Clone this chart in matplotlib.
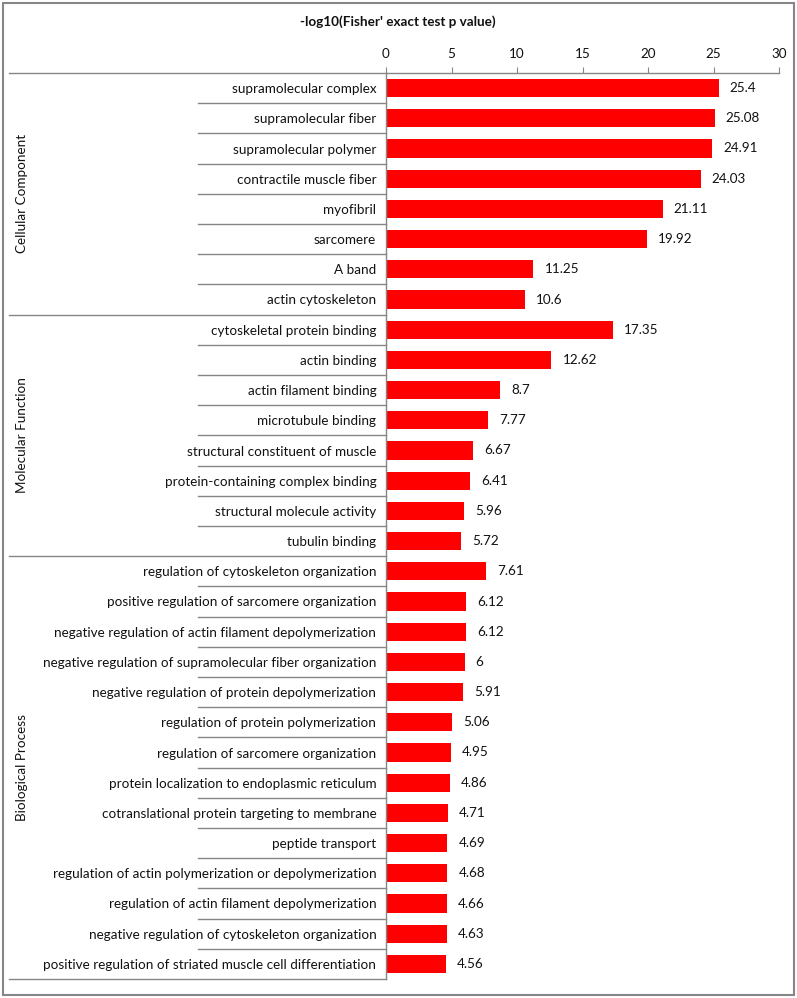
import matplotlib.pyplot as plt
from matplotlib.lines import Line2D
from matplotlib.patches import Rectangle
from matplotlib.transforms import blended_transform_factory

plt.rcParams["font.family"] = ["Lato", "DejaVu Sans"]

# GO enrichment terms (top to bottom) and -log10 p values
cc_terms = ["supramolecular complex", "supramolecular fiber", "supramolecular polymer",
            "contractile muscle fiber", "myofibril", "sarcomere", "A band",
            "actin cytoskeleton"]
cc_values = [25.4, 25.08, 24.91, 24.03, 21.11, 19.92, 11.25, 10.6]

mf_terms = ["cytoskeletal protein binding", "actin binding", "actin filament binding",
            "microtubule binding", "structural constituent of muscle",
            "protein-containing complex binding", "structural molecule activity",
            "tubulin binding"]
mf_values = [17.35, 12.62, 8.7, 7.77, 6.67, 6.41, 5.96, 5.72]

bp_terms = ["regulation of cytoskeleton organization",
            "positive regulation of sarcomere organization",
            "negative regulation of actin filament depolymerization",
            "negative regulation of supramolecular fiber organization",
            "negative regulation of protein depolymerization",
            "regulation of protein polymerization",
            "regulation of sarcomere organization",
            "protein localization to endoplasmic reticulum",
            "cotranslational protein targeting to membrane",
            "peptide transport",
            "regulation of actin polymerization or depolymerization",
            "regulation of actin filament depolymerization",
            "negative regulation of cytoskeleton organization",
            "positive regulation of striated muscle cell differentiation"]
bp_values = [7.61, 6.12, 6.12, 6, 5.91, 5.06, 4.95, 4.86, 4.71, 4.69, 4.68, 4.66,
             4.63, 4.56]

group_names = ["Cellular Component", "Molecular Function", "Biological Process"]
x_ticks = [0, 5, 10, 15, 20, 25, 30]

terms = cc_terms + mf_terms + bp_terms
values = cc_values + mf_values + bp_values
group_sizes = [len(cc_terms), len(mf_terms), len(bp_terms)]

W, H = 797, 998
GRAY = "#868686"
TXT = "#111111"
FS = 9.7

fig = plt.figure(figsize=(W / 100, H / 100), dpi=100)
ax = fig.add_axes([386 / W, 1 - 979 / H, (779 - 386) / W, (979 - 73) / H])

ypos = list(range(len(terms)))
ax.barh(ypos, values, height=0.6, color="#ff0000")
for y, v in zip(ypos, values):
    ax.annotate(f"{v:g}", (v, y), xytext=(8, 0), textcoords="offset points",
                va="center", ha="left", fontsize=FS, color=TXT)

ax.set_xlim(0, 30)
ax.set_ylim(len(terms) - 0.5, -0.5)
ax.set_xticks(x_ticks)
ax.xaxis.tick_top()
ax.tick_params(axis="x", direction="out", length=4, color=GRAY, labelsize=FS,
               pad=5, labelcolor=TXT)
ax.set_yticks(ypos)
ax.set_yticklabels(terms, fontsize=FS, color=TXT)
ax.tick_params(axis="y", length=0, pad=7)
for s in ["right", "bottom"]:
    ax.spines[s].set_visible(False)
for s in ["left", "top"]:
    ax.spines[s].set_color(GRAY)
    ax.spines[s].set_linewidth(1.0)

# multi-level category axis lines
tr = blended_transform_factory(fig.transFigure, ax.transData)
x_axis = 386 / W
bounds = [0]
for n in group_sizes:
    bounds.append(bounds[-1] + n)
for i in range(len(terms) + 1):
    y = i - 0.5
    x0 = 9 / W if i in bounds else 198 / W
    fig.add_artist(Line2D([x0, x_axis], [y, y], transform=tr, color=GRAY, lw=1.0))

for name, start, end in zip(group_names, bounds[:-1], bounds[1:]):
    fig.text(22 / W, (start + end - 1) / 2, name, transform=tr, rotation=90,
             ha="center", va="center", fontsize=FS, color=TXT)

fig.text(398 / W, 1 - 22 / H, "-log10(Fisher' exact test p value)", ha="center",
         va="center", fontsize=FS, fontweight="bold", color=TXT)

fig.add_artist(Rectangle((3 / W, 3 / H), 1 - 6 / W, 1 - 6 / H, transform=fig.transFigure,
                         fill=False, edgecolor=GRAY, lw=1.5))

fig.savefig("out.png", dpi=100)
